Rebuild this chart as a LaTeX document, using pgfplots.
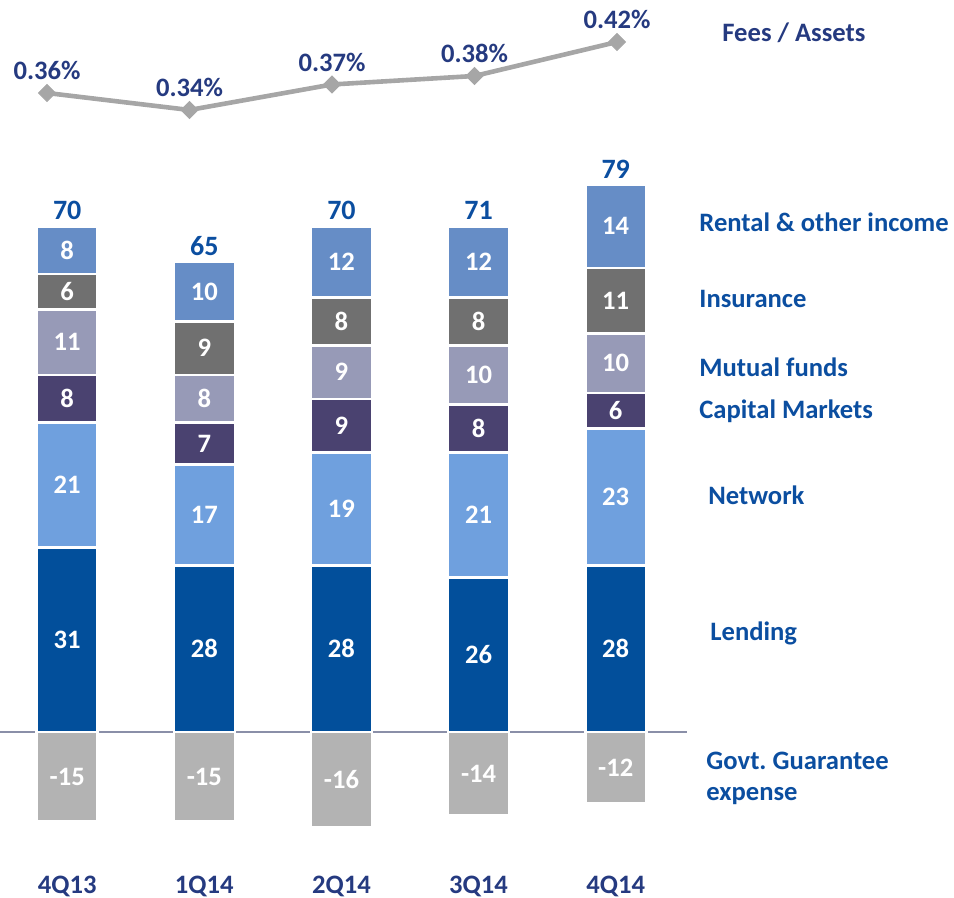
\documentclass[border=0pt]{standalone}
\usepackage{pgfplots}
\usepackage{pgfplotstable}
\pgfplotsset{compat=1.18}
\usepackage{fontspec}
\setmainfont{Carlito}
\definecolor{lending}{HTML}{024F9B}
\definecolor{network}{HTML}{6FA0DE}
\definecolor{capmkt}{HTML}{4A4270}
\definecolor{mutual}{HTML}{979AB7}
\definecolor{insur}{HTML}{707070}
\definecolor{rental}{HTML}{668DC6}
\definecolor{govt}{HTML}{B3B3B3}
\definecolor{feeline}{HTML}{A6A6A6}
\definecolor{zeroline}{HTML}{8A8FA8}
\definecolor{lblblue}{HTML}{0B4EA0}
\definecolor{navy}{HTML}{253A80}
\newcommand{\lf}{\fontsize{13.3}{16}\selectfont\bfseries}
\newcommand{\tf}{\fontsize{14}{16.8}\selectfont\bfseries}
\pgfplotstableread{
x lend net cap mut ins ren govt total fee
0 31 21 8 11 6 8 -15 70 0.36
1 28 17 7 8 9 10 -15 65 0.34
2 28 19 9 9 8 12 -16 70 0.37
3 26 21 8 10 8 12 -14 71 0.38
4 28 23 6 10 11 14 -12 79 0.42
}\data
\pgfplotsset{
  common/.style={
    scale only axis, width=343.5pt, xmin=-0.49, xmax=4.52,
    height=351.05pt, ymin=-23, ymax=95, at={(0pt,14.55pt)},
    clip=false, anchor=south west,
  },
  seg/.style={fill=#1, draw=white, line width=1.3pt},
  lbl/.style={only marks, mark=none, nodes near coords, point meta=explicit symbolic,
    every node near coord/.append style={font=\lf, text=white, anchor=center}},
}
\begin{document}
\begin{tikzpicture}
\useasboundingbox (0,0) rectangle (477pt,449pt);
% negative bars
\begin{axis}[common, ybar, bar width=30.5pt, hide axis]
\addplot[seg=govt] table[x=x, y=govt] {\data};
\end{axis}
% positive stacked bars
\begin{axis}[common, ybar stacked, bar width=30.5pt,
  axis line style={draw=none}, major tick length=0pt,
  ytick=\empty, xtick={0,1,2,3,4},
  xticklabels={4Q13,1Q14,2Q14,3Q14,4Q14},
  xticklabel style={font=\lf, text=navy}]
\addplot[seg=lending] table[x=x, y=lend] {\data};
\addplot[seg=network] table[x=x, y=net] {\data};
\addplot[seg=capmkt] table[x=x, y=cap] {\data};
\addplot[seg=mutual] table[x=x, y=mut] {\data};
\addplot[seg=insur] table[x=x, y=ins] {\data};
\addplot[seg=rental] table[x=x, y=ren] {\data};
\draw[zeroline, line width=1pt] (axis cs:-0.49,0) -- (axis cs:4.52,0);
\end{axis}
% segment labels and totals
\begin{axis}[common, hide axis]
\addplot[lbl] table[x=x, y expr=\thisrow{lend}/2, meta=lend] {\data};
\addplot[lbl] table[x=x, y expr=\thisrow{lend}+\thisrow{net}/2, meta=net] {\data};
\addplot[lbl] table[x=x, y expr=\thisrow{lend}+\thisrow{net}+\thisrow{cap}/2, meta=cap] {\data};
\addplot[lbl] table[x=x, y expr=\thisrow{lend}+\thisrow{net}+\thisrow{cap}+\thisrow{mut}/2, meta=mut] {\data};
\addplot[lbl] table[x=x, y expr=\thisrow{lend}+\thisrow{net}+\thisrow{cap}+\thisrow{mut}+\thisrow{ins}/2, meta=ins] {\data};
\addplot[lbl] table[x=x, y expr=\thisrow{lend}+\thisrow{net}+\thisrow{cap}+\thisrow{mut}+\thisrow{ins}+\thisrow{ren}/2, meta=ren] {\data};
\addplot[lbl] table[x=x, y expr=\thisrow{govt}/2, meta=govt] {\data};
\addplot[only marks, mark=none, nodes near coords, point meta=explicit symbolic,
  every node near coord/.append style={font=\tf, text=lblblue, anchor=south, inner sep=2pt, yshift=1pt}]
  table[x=x, y expr=\thisrow{lend}+\thisrow{net}+\thisrow{cap}+\thisrow{mut}+\thisrow{ins}+\thisrow{ren}, meta=total] {\data};
\end{axis}
% fees / assets line
\begin{axis}[scale only axis, anchor=south west, clip=false, at={(23.5pt,377pt)},
  width=285pt, height=59.5pt, xmin=0, xmax=4, ymin=0.30, ymax=0.44, hide axis]
\addplot[feeline, line width=2.3pt, mark=square*, mark size=3pt,
  mark options={rotate=45, fill=feeline, draw=feeline, line width=0.5pt},
  nodes near coords={\pgfplotspointmeta\%}, point meta=explicit symbolic,
  every node near coord/.append style={font=\lf, text=navy, anchor=south, yshift=3pt}]
  table[x=x, y=fee, meta=fee] {\data};
\end{axis}
% series names
\node[anchor=base west, inner sep=0, font=\lf, text=navy] at (361pt,428pt) {Fees / Assets};
\node[anchor=base west, inner sep=0, font=\lf, text=lblblue] at (349.5pt,333pt) {Rental \& other income};
\node[anchor=base west, inner sep=0, font=\lf, text=lblblue] at (349.5pt,295pt) {Insurance};
\node[anchor=base west, inner sep=0, font=\lf, text=lblblue] at (349.5pt,260.5pt) {Mutual funds};
\node[anchor=base west, inner sep=0, font=\lf, text=lblblue] at (349.5pt,239.5pt) {Capital Markets};
\node[anchor=base west, inner sep=0, font=\lf, text=lblblue] at (354pt,196.5pt) {Network};
\node[anchor=base west, inner sep=0, font=\lf, text=lblblue] at (355pt,128.5pt) {Lending};
\node[anchor=base west, inner sep=0, font=\lf, text=lblblue] at (353pt,64pt) {Govt.\ Guarantee};
\node[anchor=base west, inner sep=0, font=\lf, text=lblblue] at (353pt,48.5pt) {expense};
\end{tikzpicture}
\end{document}
